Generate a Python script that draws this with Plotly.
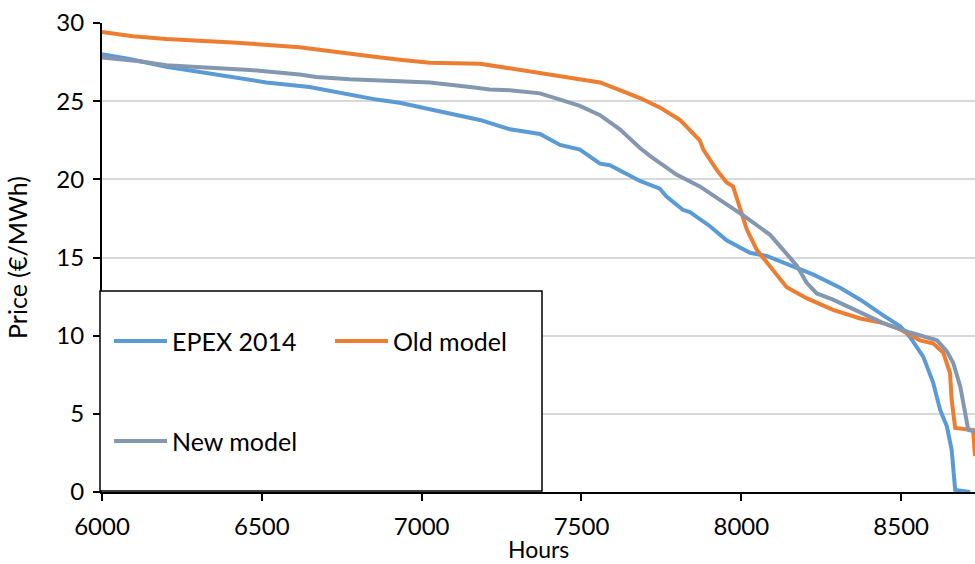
import plotly.graph_objects as go

# Price duration curves (hours 6000 onward)
epex_hours = [6000, 6086, 6201, 6367, 6514, 6649, 6775, 6859, 6931, 7026, 7182, 7276, 7370,
              7433, 7495, 7558, 7589, 7683, 7745, 7766, 7817, 7839, 7902, 7954, 7996, 8027,
              8079, 8163, 8226, 8309, 8372, 8444, 8497, 8528, 8569, 8600, 8622, 8643, 8658,
              8669, 8716]
epex_price = [28.0, 27.7, 27.2, 26.7, 26.2, 25.9, 25.4, 25.1, 24.9, 24.5, 23.8, 23.2, 22.9,
              22.2, 21.9, 21.0, 20.9, 19.9, 19.4, 18.9, 18.05, 17.9, 17.0, 16.1, 15.6, 15.3,
              15.1, 14.4, 13.9, 13.06, 12.3, 11.3, 10.6, 9.9, 8.66, 7.0, 5.25, 4.2, 2.7,
              0.13, 0.0]

old_hours = [6000, 6096, 6201, 6409, 6618, 6670, 6722, 6827, 6931, 7026, 7182, 7276, 7370,
             7464, 7558, 7620, 7683, 7745, 7808, 7870, 7881, 7923, 7954, 7974, 7996, 8017,
             8048, 8090, 8142, 8204, 8287, 8372, 8444, 8497, 8559, 8601, 8632, 8653, 8658,
             8669, 8725, 8731]
old_price = [29.43, 29.15, 28.98, 28.76, 28.45, 28.3, 28.2, 27.9, 27.65, 27.46, 27.4, 27.1,
             26.8, 26.5, 26.2, 25.7, 25.2, 24.6, 23.8, 22.5, 21.9, 20.6, 19.8, 19.55, 18.05,
             16.8, 15.5, 14.4, 13.1, 12.4, 11.65, 11.1, 10.8, 10.4, 9.7, 9.5, 8.9, 7.6, 5.9,
             4.1, 3.97, 2.3]

new_hours = [6000, 6117, 6201, 6347, 6462, 6618, 6670, 6775, 6931, 7026, 7151, 7213, 7276,
             7370, 7433, 7495, 7558, 7620, 7683, 7714, 7797, 7870, 7954, 8006, 8090, 8142,
             8173, 8204, 8236, 8287, 8372, 8444, 8528, 8612, 8643, 8663, 8685, 8700, 8710,
             8731]
new_price = [27.8, 27.55, 27.3, 27.1, 27.0, 26.7, 26.55, 26.4, 26.27, 26.2, 25.9, 25.75,
             25.7, 25.5, 25.1, 24.7, 24.1, 23.2, 22.0, 21.5, 20.3, 19.55, 18.4, 17.7, 16.45,
             15.2, 14.5, 13.4, 12.7, 12.3, 11.45, 10.8, 10.2, 9.7, 9.0, 8.25, 6.74, 5.25,
             3.97, 3.86]

series_names = ["EPEX 2014", "Old model", "New model"]
series_colors = ["#5B9BD5", "#ED7D31", "#8497B0"]

x_ticks = [6000, 6500, 7000, 7500, 8000, 8500]
y_ticks = [0, 5, 10, 15, 20, 25, 30]

FONT = "Lato"

fig = go.Figure()
for name, color, xs, ys in zip(series_names, series_colors,
                               [epex_hours, old_hours, new_hours],
                               [epex_price, old_price, new_price]):
    fig.add_trace(go.Scatter(x=xs, y=ys, mode="lines", name=name,
                             line=dict(color=color, width=4), showlegend=False))

W, H = 975, 564
ML, MR, MT, MB = 102, 0, 23, 72

fig.update_layout(
    width=W, height=H,
    margin=dict(l=ML, r=MR, t=MT, b=MB),
    plot_bgcolor="white", paper_bgcolor="white",
    font=dict(family=FONT, size=24, color="black"),
)
fig.update_xaxes(
    range=[6000, 8731], tickvals=x_ticks, showgrid=False,
    showline=True, linecolor="black", linewidth=2,
    ticks="outside", ticklen=7, tickwidth=2, tickcolor="black",
    tickfont=dict(size=24), ticklabelstandoff=5,
    zeroline=False,
)
fig.update_yaxes(
    range=[0, 30], tickvals=y_ticks, showgrid=True, gridcolor="#D9D9D9", gridwidth=1.5,
    showline=True, linecolor="black", linewidth=2,
    ticks="outside", ticklen=7, tickwidth=2, tickcolor="black",
    tickfont=dict(size=24), ticklabelstandoff=4,
    title=dict(text="Price (€/MWh)", standoff=22, font=dict(size=25)),
    zeroline=False,
)

# Pixel layout -> paper coords
PW, PH = W - ML - MR, H - MT - MB

def fx(x):
    return (x - ML) / PW

def fy(y):
    return (H - MB - y) / PH

# x-axis title sits tight under the tick labels, at the bottom edge
fig.add_annotation(xref="paper", yref="paper", x=0.5, y=fy(564), text="Hours",
                   showarrow=False, xanchor="center", yanchor="bottom", borderpad=0,
                   font=dict(size=23, family=FONT, color="black"))

# Boxed legend in the lower-left corner of the plot
X0, X1 = 100, 542
Y0, Y1 = 291, 491
fig.add_shape(type="rect", xref="paper", yref="paper",
              x0=fx(X0), x1=fx(X1), y0=fy(Y1), y1=fy(Y0),
              line=dict(color="black", width=1.5), fillcolor="white", layer="above")

legend_rows = [(114, 341), (335, 341), (114, 441)]
for (lx, ly), name, color in zip(legend_rows, series_names, series_colors):
    fig.add_shape(type="line", xref="paper", yref="paper",
                  x0=fx(lx), x1=fx(lx + 53), y0=fy(ly), y1=fy(ly),
                  line=dict(color=color, width=4), layer="above")
    fig.add_annotation(xref="paper", yref="paper", x=fx(lx + 56), y=fy(ly),
                       text=name, showarrow=False, xanchor="left", yanchor="middle",
                       font=dict(size=25, family=FONT, color="black"))

fig.write_html("out.html")
